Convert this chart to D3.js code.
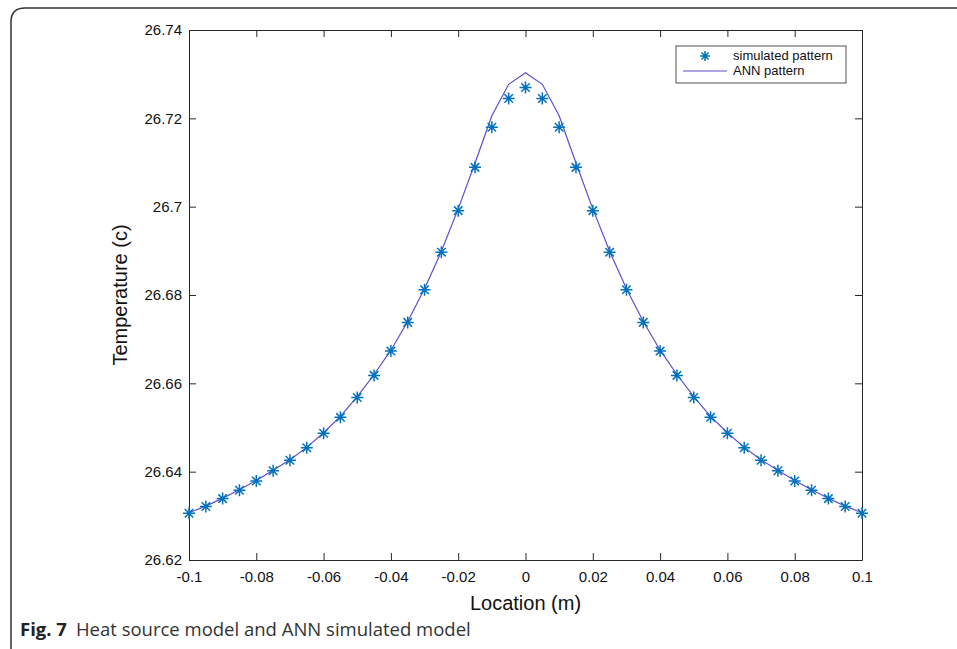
<!DOCTYPE html>
<html>
<head>
<meta charset="utf-8">
<script src="https://d3js.org/d3.v7.min.js"></script>
<style>
    body { margin: 0; background: #fff; }
    svg { display: block; }
</style>
</head>
<body>
<div id="chart"></div>
<script>

    // data
    var locations = [-0.1, -0.095, -0.09, -0.085, -0.08, -0.075, -0.07, -0.065, -0.06, -0.055, -0.05,
        -0.045, -0.04, -0.035, -0.03, -0.025, -0.02, -0.015, -0.01, -0.005, 0,
        0.005, 0.01, 0.015, 0.02, 0.025, 0.03, 0.035, 0.04, 0.045, 0.05,
        0.055, 0.06, 0.065, 0.07, 0.075, 0.08, 0.085, 0.09, 0.095, 0.1];
    var simulated = [26.6306, 26.6321, 26.6339, 26.6358, 26.6379, 26.6402, 26.6426, 26.6454, 26.6487, 26.6523, 26.6568,
        26.6618, 26.6673, 26.6738, 26.6812, 26.6897, 26.6991, 26.7089, 26.7180, 26.7245, 26.7270,
        26.7245, 26.7180, 26.7089, 26.6991, 26.6897, 26.6812, 26.6738, 26.6673, 26.6618, 26.6568,
        26.6523, 26.6487, 26.6454, 26.6426, 26.6402, 26.6379, 26.6358, 26.6339, 26.6321, 26.6306];
    var ann = [26.6307, 26.6322, 26.6340, 26.6359, 26.6380, 26.6403, 26.6427, 26.6455, 26.6488, 26.6525, 26.6570,
        26.6620, 26.6675, 26.6740, 26.6814, 26.6899, 26.6995, 26.7099, 26.7206, 26.7277, 26.7303,
        26.7277, 26.7206, 26.7099, 26.6995, 26.6899, 26.6814, 26.6740, 26.6675, 26.6620, 26.6570,
        26.6525, 26.6488, 26.6455, 26.6427, 26.6403, 26.6380, 26.6359, 26.6340, 26.6322, 26.6307];
    var xTicks = [-0.1, -0.08, -0.06, -0.04, -0.02, 0, 0.02, 0.04, 0.06, 0.08, 0.1];
    var yTicks = [26.62, 26.64, 26.66, 26.68, 26.7, 26.72, 26.74];
    var seriesNames = ["simulated pattern", "ANN pattern"];

    var W = 957, H = 649;
    var margin = { top: 30, right: 95, bottom: 89, left: 189 },
        width = W - margin.left - margin.right,
        height = H - margin.top - margin.bottom;

    var axisColor = "#262626";
    var markColor = "#0072bd";
    var lineColor = "#5a4fcf";

    var svg = d3.select("#chart")
        .append("svg")
        .attr("width", W)
        .attr("height", H);

    // figure frame (rounded top-left corner)
    svg.append("path")
        .attr("d", "M11,649 L11,22 Q11,8 25,8 L957,8")
        .attr("fill", "none")
        .attr("stroke", "#333")
        .attr("stroke-width", 1.5);

    var g = svg.append("g")
        .attr("transform", "translate(" + margin.left + "," + margin.top + ")");

    var x = d3.scaleLinear().domain([-0.1, 0.1]).range([0, width]);
    var y = d3.scaleLinear().domain([26.62, 26.74]).range([height, 0]);

    var fmtX = function (d) { return d === 0 ? "0" : String(d); };
    var fmtY = function (d) { return String(d); };

    // axes with inward ticks, box on all four sides
    var axB = g.append("g").attr("transform", "translate(0," + height + ")")
        .call(d3.axisBottom(x).tickValues(xTicks).tickFormat(fmtX).tickSizeInner(-7).tickSizeOuter(0).tickPadding(11));
    var axL = g.append("g")
        .call(d3.axisLeft(y).tickValues(yTicks).tickFormat(fmtY).tickSizeInner(-7).tickSizeOuter(0).tickPadding(7));
    var axT = g.append("g")
        .call(d3.axisTop(x).tickValues(xTicks).tickFormat("").tickSizeInner(-7).tickSizeOuter(0));
    var axR = g.append("g").attr("transform", "translate(" + width + ",0)")
        .call(d3.axisRight(y).tickValues(yTicks).tickFormat("").tickSizeInner(-7).tickSizeOuter(0));

    [axB, axL, axT, axR].forEach(function (a) {
        a.select(".domain").attr("stroke", axisColor);
        a.selectAll(".tick line").attr("stroke", axisColor);
        a.selectAll("text")
            .attr("fill", "#111")
            .style("font-family", "'Liberation Sans', Arial, sans-serif")
            .style("font-size", "15px");
    });

    // axis titles
    g.append("text")
        .attr("x", width / 2)
        .attr("y", height + 50)
        .attr("text-anchor", "middle")
        .style("font-family", "'Liberation Sans', Arial, sans-serif")
        .style("font-size", "20px")
        .attr("fill", "#111")
        .text("Location (m)");

    g.append("text")
        .attr("transform", "translate(-62," + (height / 2) + ") rotate(-90)")
        .attr("text-anchor", "middle")
        .style("font-family", "'Liberation Sans', Arial, sans-serif")
        .style("font-size", "20px")
        .attr("fill", "#111")
        .text("Temperature (c)");

    // ANN line
    var pts = locations.map(function (d, i) { return [d, ann[i]]; });
    var line = d3.line()
        .x(function (d) { return x(d[0]); })
        .y(function (d) { return y(d[1]); });
    g.append("path")
        .datum(pts)
        .attr("d", line)
        .attr("fill", "none")
        .attr("stroke", lineColor)
        .attr("stroke-width", 1.2);

    // asterisk markers
    function asterisk(sel, r) {
        var k = r * Math.SQRT1_2;
        sel.append("path")
            .attr("d", "M" + (-r) + ",0H" + r + "M0," + (-r) + "V" + r +
                "M" + (-k) + "," + (-k) + "L" + k + "," + k +
                "M" + (-k) + "," + k + "L" + k + "," + (-k))
            .attr("stroke", markColor)
            .attr("stroke-width", 1.5)
            .attr("fill", "none");
    }
    g.selectAll(".mark")
        .data(locations)
        .enter()
        .append("g")
        .attr("class", "mark")
        .attr("transform", function (d, i) { return "translate(" + x(d) + "," + y(simulated[i]) + ")"; })
        .each(function () { asterisk(d3.select(this), 6); });

    // legend
    var lg = svg.append("g").attr("transform", "translate(676,46)");
    lg.append("rect")
        .attr("width", 170).attr("height", 37)
        .attr("fill", "#fff")
        .attr("stroke", axisColor)
        .attr("stroke-width", 0.8);
    asterisk(lg.append("g").attr("transform", "translate(29,10)"), 5);
    lg.append("line")
        .attr("x1", 7).attr("x2", 51).attr("y1", 25).attr("y2", 25)
        .attr("stroke", lineColor).attr("stroke-width", 1.2);
    lg.selectAll(".lt")
        .data(seriesNames)
        .enter()
        .append("text")
        .attr("x", 57)
        .attr("y", function (d, i) { return 14 + i * 15; })
        .style("font-family", "'Liberation Sans', Arial, sans-serif")
        .style("font-size", "13px")
        .attr("fill", "#111")
        .text(function (d) { return d; });

    // caption
    var cap = svg.append("text")
        .attr("x", 20)
        .attr("y", 636)
        .style("font-family", "'Open Sans', 'Noto Sans', sans-serif")
        .style("font-size", "18.5px")
        .attr("fill", "#222");
    cap.append("tspan").style("font-weight", "bold").text("Fig. 7");
    cap.append("tspan").attr("dx", 9).attr("fill", "#333").text("Heat source model and ANN simulated model");

</script>
</body>
</html>
